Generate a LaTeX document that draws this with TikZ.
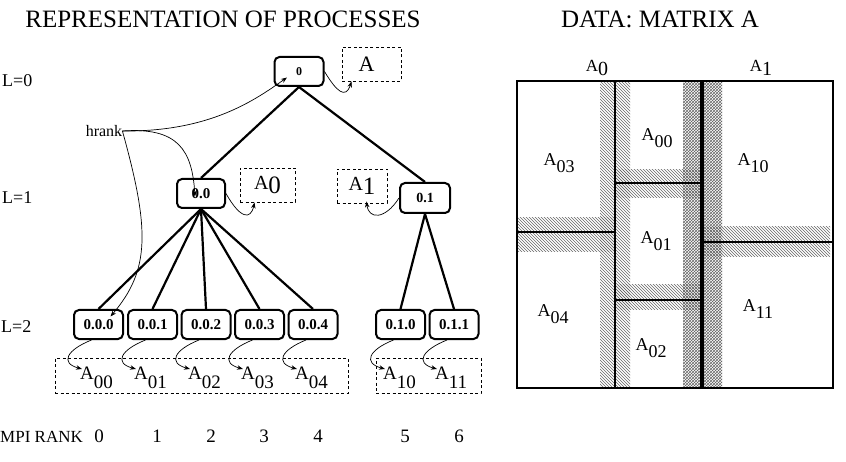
\documentclass[tikz,border=0pt]{standalone}
\usepackage{fontspec}
\setmainfont{Liberation Serif}
\usetikzlibrary{arrows.meta,patterns}
\newcommand\fsz[1]{\fontsize{#1}{#1}\selectfont}
\newcommand\Asb[2]{A\raisebox{#2}{#1}}
\begin{document}
\begin{tikzpicture}[x=1pt,y=-1pt,
  proc/.style={draw,line width=2pt,rounded corners=5pt,minimum width=49pt,minimum height=29pt,inner sep=0pt,font=\bfseries\fsz{15}},
  dbox/.style={draw,dash pattern=on 3pt off 2.5pt,line width=0.9pt,inner sep=0pt},
  tedge/.style={line width=2.2pt},
  harr/.style={line width=0.7pt,-{Stealth[length=6pt,width=4.5pt]}},
  lbl/.style={inner sep=0pt,anchor=base west,font=\fsz{19}},
  mlbl/.style={inner sep=0pt,font=\fsz{18}},
  side/.style={inner sep=0pt,anchor=base west,font=\fsz{18}},
  rank/.style={inner sep=0pt,anchor=base,font=\fsz{19}},
  title/.style={inner sep=0pt,anchor=base,font=\fsz{25}},
  light/.style={pattern=north west lines,pattern color=black!60},
  dense/.style={pattern=crosshatch,pattern color=black!60},
  mline/.style={line width=1.6pt}]
\useasboundingbox (0,0) rectangle (846,462);

% titles
\node[title] (t1) at (223,28) {REPRESENTATION OF PROCESSES};
\node[title] (t2) at (660,28) {DATA: MATRIX A};

% level labels
\node[side] (l0) at (2,87) {L=0};
\node[side] (l1) at (2,204) {L=1};
\node[side] (l2) at (1,333) {L=2};

% tree nodes
\node[proc,font=\bfseries\fsz{12}] (n0) at (299,71.5) {0};
\node[proc,minimum width=48pt] (n00) at (201,193.5) {\raisebox{-5pt}{0.0}};
\node[proc,minimum width=50pt,minimum height=30pt,font=\bfseries\fsz{14}] (n01) at (425,198) {\raisebox{-5pt}{0.1}};
\node[proc] (n000) at (98.5,324.5) {0.0.0};
\node[proc] (n001) at (152.5,324.5) {0.0.1};
\node[proc] (n002) at (206,324.5) {0.0.2};
\node[proc] (n003) at (259.5,324.5) {0.0.3};
\node[proc] (n004) at (313,324.5) {0.0.4};
\node[proc] (n010) at (400.5,324.5) {0.1.0};
\node[proc] (n011) at (454,324.5) {0.1.1};

% dashed data boxes
\node[dbox,minimum width=59pt,minimum height=34pt,font=\fsz{22}] (dA) at (371.5,64) {\hspace*{-10pt}A};
\node[dbox,minimum width=55pt,minimum height=34pt,font=\fsz{20}] (dA0) at (267.5,185) {A\raisebox{-4pt}{\fsz{25}0}};
\node[dbox,minimum width=50pt,minimum height=34pt,font=\fsz{20}] (dA1) at (362,186) {A\raisebox{-4pt}{\fsz{25}1}};
\node[dbox,minimum width=293pt,minimum height=35pt] (dL0) at (201.5,375.5) {};
\node[dbox,minimum width=105pt,minimum height=35pt] (dL1) at (428.5,375.5) {};

% bottom labels
\node[lbl] (a00) at (80,379) {\Asb{00}{-9pt}};
\node[lbl] (a01) at (134,379) {\Asb{01}{-9pt}};
\node[lbl] (a02) at (188,379) {\Asb{02}{-9pt}};
\node[lbl] (a03) at (241,379) {\Asb{03}{-9pt}};
\node[lbl] (a04) at (295,379) {\Asb{04}{-9pt}};
\node[lbl] (a10) at (383,379) {\Asb{10}{-9pt}};
\node[lbl] (a11) at (435,379) {\Asb{11}{-9pt}};

% tree edges
\draw[tedge] (n0.south) -- (n00.north);
\draw[tedge] (n0.south) -- (n01.north);
\foreach \c in {n000,n001,n002,n003,n004} \draw[tedge] (n00.south) -- (\c.north);
\foreach \c in {n010,n011} \draw[tedge] (n01.south) -- (\c.north);

% data arrows
\draw[harr] (n0.east) .. controls +(12,20) and +(-6,18) .. ([xshift=10pt]dA.south west);
\draw[harr] (n00.east) .. controls +(14,25) and +(-4,18) .. ([xshift=15pt]dA0.south west);
\draw[harr] (n01.west) .. controls +(-14,22) and +(2,18) .. ([xshift=30pt,yshift=2pt]dA1.south west);
\foreach \n/\a in {n000/a00,n001/a01,n002/a02,n003/a03,n004/a04,n010/a10,n011/a11}
  \draw[harr] ([xshift=-7pt]\n.south) .. controls +(-25,10) and +(-22,-6) .. ([shift={(2,-10)}]\a.base west);

% hrank
\node[inner sep=0pt,font=\fsz{16}] (hr) at (104,131) {hrank};
\draw[harr] (hr.east) .. controls (210,132) and (255,100) .. ([shift={(-12,6)}]n0.center);
\draw[harr] (hr.east) .. controls (178,127) and (192,150) .. ([shift={(-6,3)}]n00.center);
\draw[harr] (hr.east) .. controls (150,230) and (150,270) .. ([shift={(12,-8)}]n000.center);

% MPI rank
\node[inner sep=0pt,anchor=base west,font=\fsz{17}] (mpi) at (0,442) {MPI RANK};
\node[rank] (r0) at (99,442) {0};
\node[rank] (r1) at (157,442) {1};
\node[rank] (r2) at (211,442) {2};
\node[rank] (r3) at (264,442) {3};
\node[rank] (r4) at (318,442) {4};
\node[rank] (r5) at (405,442) {5};
\node[rank] (r6) at (459,442) {6};

% matrix hatching
\fill[light] (600,81) rectangle (615,388);
\fill[light] (517,218) rectangle (615,252);
\fill[light] (615,81) rectangle (630,388);
\fill[light] (615,170) rectangle (702,198);
\fill[light] (615,285) rectangle (702,310);
\fill[light] (702,227) rectangle (830,257);
\fill[dense] (683,81) rectangle (702,388);
\fill[dense] (702,81) rectangle (722,388);

% matrix lines
\draw[line width=2.8pt] (517,81) rectangle (833,388);
\draw[mline] (615,81) -- (615,388);
\draw[line width=3.2pt] (702,81) -- (702,388);
\draw[mline] (517,232) -- (615,232);
\draw[mline] (615,183) -- (702,183);
\draw[mline] (615,300) -- (702,300);
\draw[mline] (702,242) -- (833,242);

% matrix labels
\node[inner sep=0pt,font=\fsz{17}] (mA0) at (597,68) {A\raisebox{-4pt}{\fsz{20}0}};
\node[inner sep=0pt,font=\fsz{17}] (mA1) at (761,68) {A\raisebox{-4pt}{\fsz{20}1}};
\node[mlbl] (m03) at (559,163) {\Asb{03}{-7pt}};
\node[mlbl] (m00) at (657,138) {\Asb{00}{-7pt}};
\node[mlbl] (m10) at (753,163) {\Asb{10}{-7pt}};
\node[mlbl] (m01) at (656,241) {\Asb{01}{-7pt}};
\node[mlbl] (m04) at (553,314) {\Asb{04}{-7pt}};
\node[mlbl] (m11) at (758,309) {\Asb{11}{-7pt}};
\node[mlbl] (m02) at (651,348) {\Asb{02}{-7pt}};
\end{tikzpicture}
\end{document}
